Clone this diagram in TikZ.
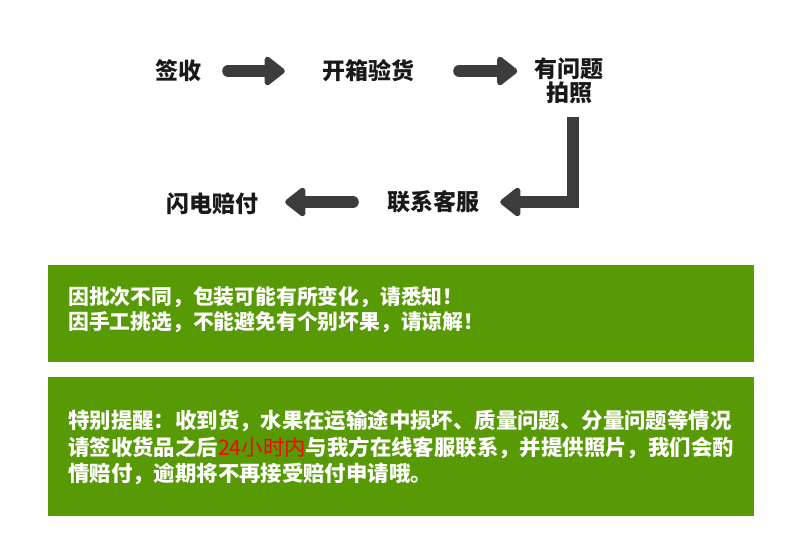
\documentclass[tikz,border=0pt]{standalone}
\usepackage{fontspec}
\setmainfont{Noto Sans CJK SC}
\usepackage{xcolor}
\definecolor{noteGreen}{RGB}{88,154,5}
\definecolor{arrowGray}{RGB}{60,60,60}
\definecolor{alertRed}{RGB}{255,0,0}
\usetikzlibrary{arrows.meta}

\begin{document}
\begin{tikzpicture}[x=1pt, y=-1pt,
    stepnode/.style={inner sep=0pt, align=center, text=black!90,
                     font=\fontsize{23}{24}\selectfont\bfseries},
    bigarr/.style={arrowGray, line width=12pt, line cap=round,
                   -{Triangle[length=22pt, width=33pt, round]}},
    notebox/.style={fill=noteGreen, anchor=north west, inner sep=0pt,
                    minimum width=706pt},
    notetext/.style={anchor=west, inner sep=0pt, align=left, text=white}
  ]
  \fill[white] (0,0) rectangle (790,539);
  \useasboundingbox (0,0) rectangle (790,539);

  % process steps
  \node[stepnode] (sign)    at (178,71)  {签收};
  \node[stepnode] (unbox)   at (368,71)  {开箱验货};
  \node[stepnode] (photo)   at (569,81)  {有问题\\拍照};
  \node[stepnode] (contact) at (433,202) {联系客服};
  \node[stepnode] (pay)     at (212,204) {闪电赔付};

  \draw[bigarr, shorten <=27pt, shorten >=37pt] (sign.east) -- (unbox.west);
  \draw[bigarr, shorten <=45pt, shorten >=17pt] (unbox.east) -- (unbox.east -| photo.west);
  \draw[bigarr, line cap=butt] ([xshift=4pt, yshift=-13pt]photo.south)
    |- ([xshift=21pt]contact.east);
  \draw[bigarr, shorten <=34pt, shorten >=27pt] (contact.west) -- (contact.west -| pay.east);

  % notes
  \node[notebox, minimum height=97pt]  (note1) at (48,265) {};
  \node[notebox, minimum height=139pt] (note2) at (48,377) {};

  \node[notetext, font=\fontsize{20.8}{25}\selectfont\bfseries] (text1)
    at (68,309.5) {因批次不同，包装可能有所变化，请悉知！\\
                   因手工挑选，不能避免有个别坏果，请谅解！};
  \node[notetext, font=\fontsize{21.4}{26.5}\selectfont\bfseries] (text2)
    at (68,447.5) {特别提醒：收到货，水果在运输途中损坏、质量问题、分量问题等情况\\
                   请签收货品之后{\color{alertRed}\mdseries 24小时内}与我方在线客服联系，并提供照片，我们会酌\\
                   情赔付，逾期将不再接受赔付申请哦。};
\end{tikzpicture}
\end{document}
